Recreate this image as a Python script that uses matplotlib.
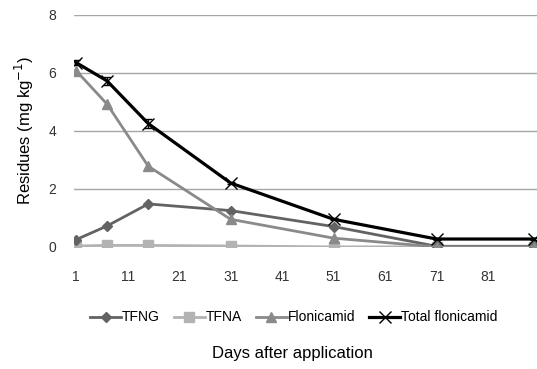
import matplotlib
matplotlib.use("Agg")
import matplotlib.pyplot as plt
from matplotlib.lines import Line2D

# ── Data ──────────────────────────────────────────────────────────────────────
days = [1, 7, 15, 31, 51, 71, 90]
tfng = [0.25, 0.72, 1.48, 1.25, 0.70, 0.02, 0.02]
tfna = [0.03, 0.05, 0.05, 0.03, 0.0, 0.0, 0.0]
flonicamid = [6.07, 4.92, 2.78, 0.95, 0.30, 0.0, 0.0]
total = [6.35, 5.72, 4.25, 2.20, 0.95, 0.27, 0.27]
total_err = [0.08, 0.15, 0.15, 0.05, 0.03, 0.02, 0.02]
xticks = [1, 11, 21, 31, 41, 51, 61, 71, 81]
yticks = [0, 2, 4, 6, 8]

plt.rcParams["font.family"] = ["Liberation Sans", "DejaVu Sans"]

fig = plt.figure(figsize=(5.37, 3.69), dpi=100)
ax = fig.add_axes([0.138, 0.331, 0.862, 0.629])

ax.plot(days, tfng, color="#636363", lw=2, marker="D", ms=5.5, zorder=3)
ax.plot(days, tfna, color="#b3b3b3", lw=2, marker="s", ms=7, zorder=2)
ax.plot(days, flonicamid, color="#8a8a8a", lw=2, marker="^", ms=7, zorder=3)
ax.errorbar(days, total, yerr=total_err, color="black", lw=2.3, marker="x", ms=8,
            mew=1, capsize=3, elinewidth=1, zorder=4)

ax.set_xlim(0.6, 90.5)
ax.set_ylim(0, 8)
ax.set_xticks(xticks)
ax.set_yticks(yticks)
ax.yaxis.grid(True, color="#a6a6a6", lw=1)
ax.set_axisbelow(True)
for s in ax.spines.values():
    s.set_visible(False)
ax.tick_params(length=0, labelsize=10, labelcolor="#333333")
ax.tick_params(axis="x", pad=17)
ax.tick_params(axis="y", pad=13)

ax.set_ylabel("Residues (mg kg$^{-1}$)", fontsize=12, labelpad=9)
fig.text(0.545, 0.03, "Days after application", fontsize=12, ha="center")

handles = [
    Line2D([], [], color="#636363", lw=2, marker="D", ms=5.5),
    Line2D([], [], color="#b3b3b3", lw=2, marker="s", ms=7),
    Line2D([], [], color="#8a8a8a", lw=2, marker="^", ms=7),
    Line2D([], [], color="black", lw=2.3, marker="x", ms=8, mew=1),
]
labels = ["TFNG", "TFNA", "Flonicamid", "Total flonicamid"]
ax.legend(handles, labels, loc="upper center", bbox_to_anchor=(0.475, -0.22), ncol=4,
          frameon=False, fontsize=10, handlelength=2.2, handletextpad=0.1,
          columnspacing=1.0)

fig.savefig("out.png", dpi=100)
